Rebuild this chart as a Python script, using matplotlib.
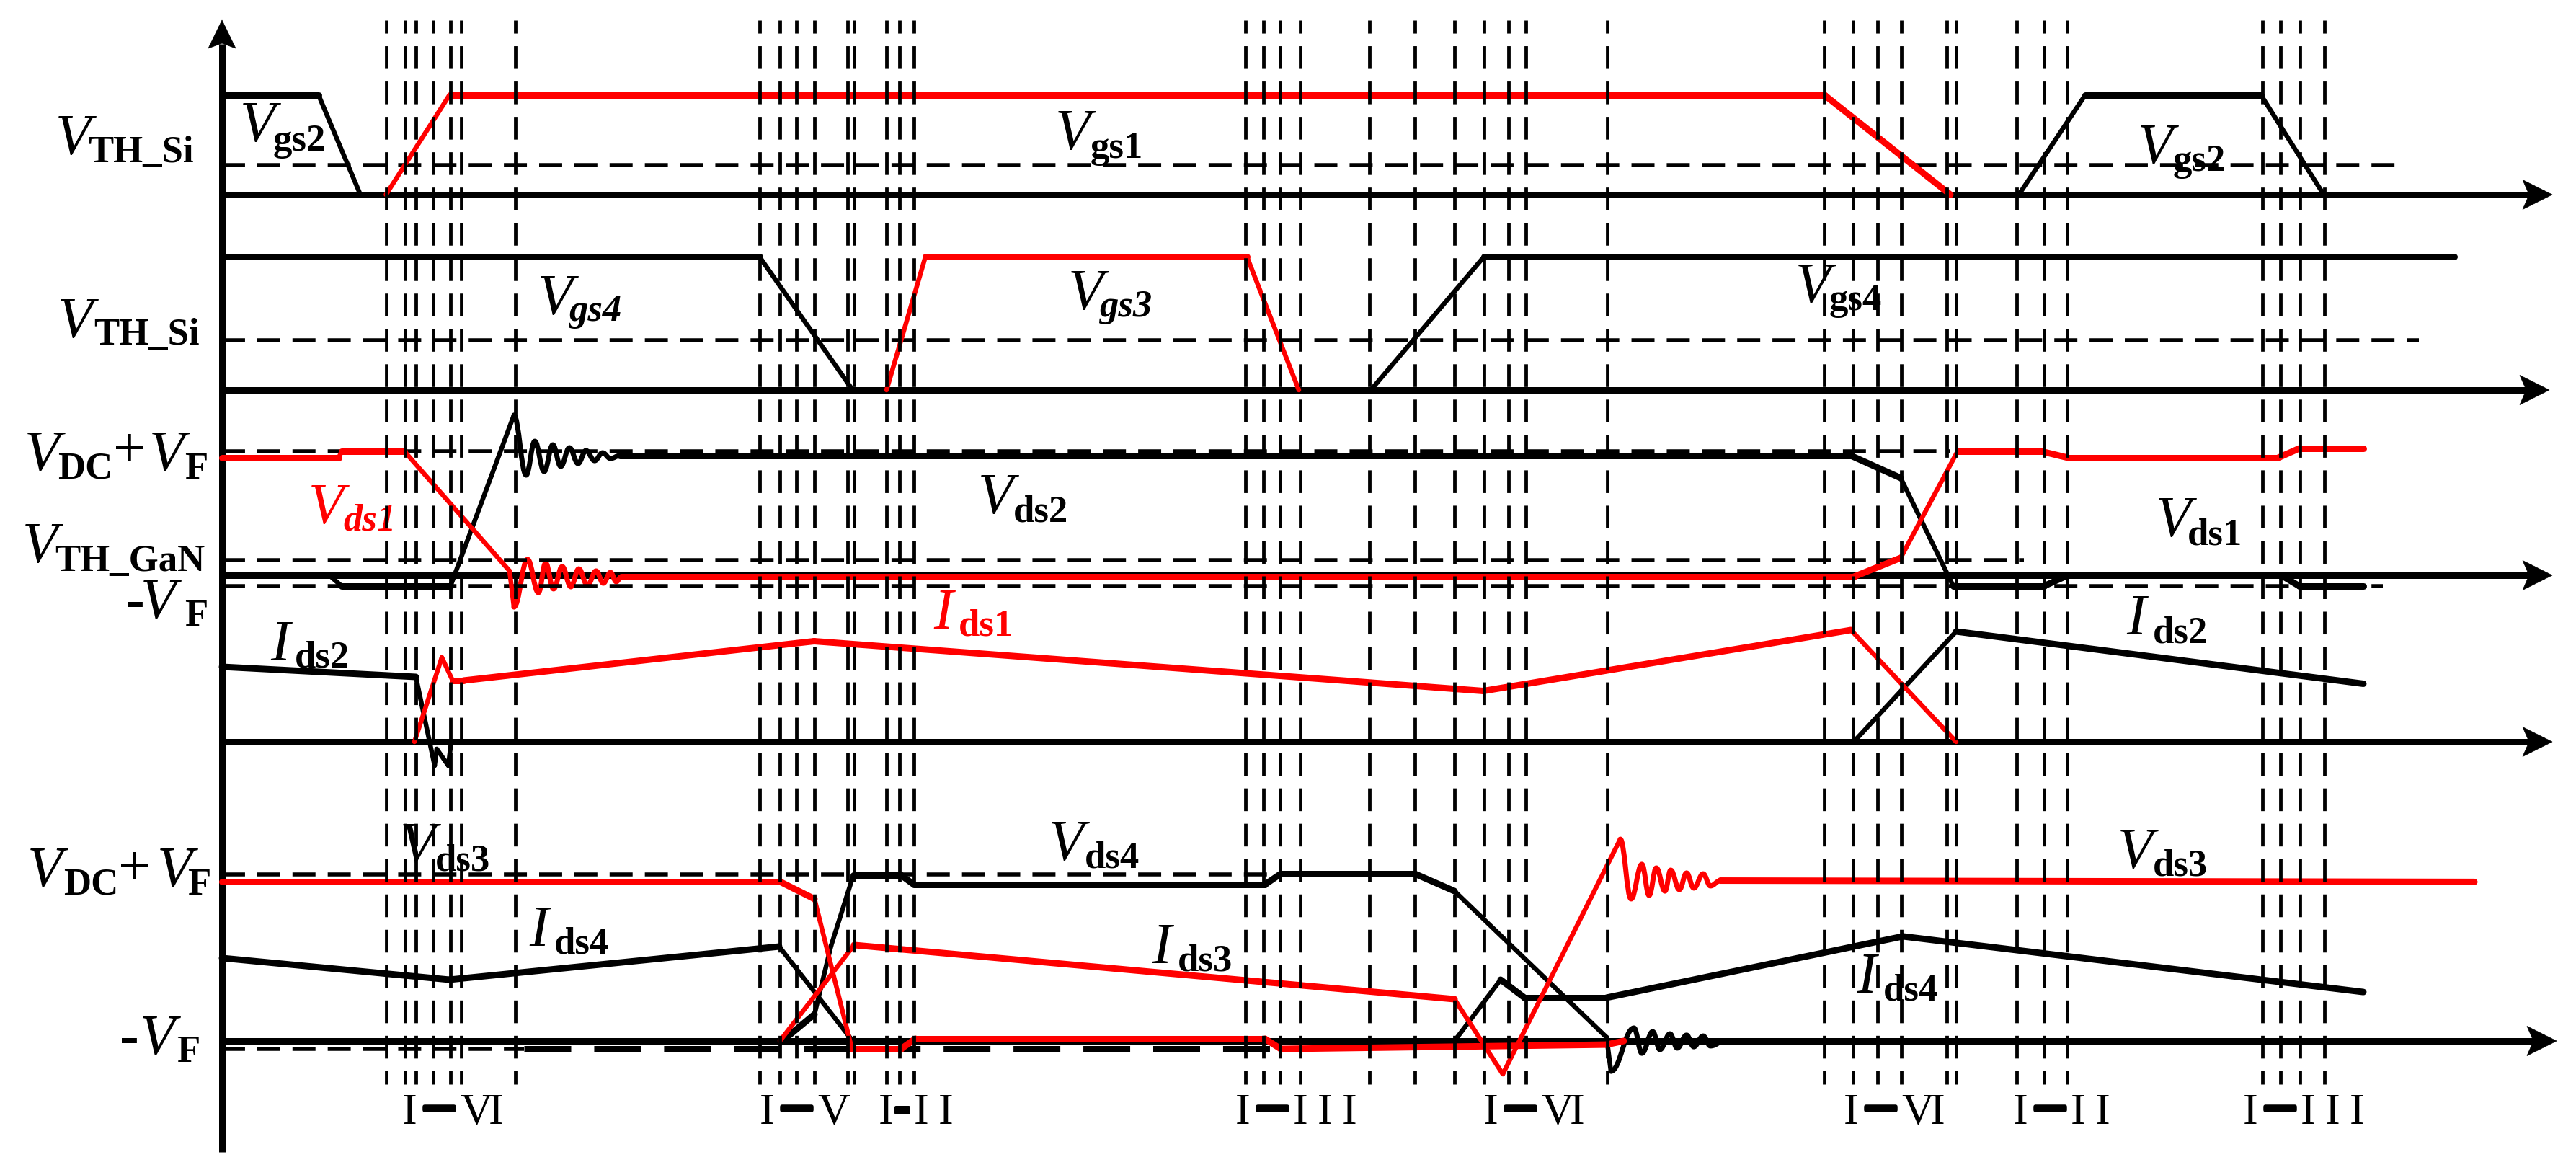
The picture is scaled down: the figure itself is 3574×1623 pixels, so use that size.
import numpy as np
import matplotlib
matplotlib.use('Agg')
import matplotlib.pyplot as plt
import matplotlib.patheffects as pe
from matplotlib.collections import LineCollection
from matplotlib.path import Path
from matplotlib.patches import PathPatch, Polygon

plt.rcParams['lines.scale_dashes'] = False

# ------------------------------------------------------------------
# DATA  (time t in arbitrary units, t = 0 at the vertical axis;
#        levels normalised per row: 1 = gate high / VDC+VF)
# ------------------------------------------------------------------
# Row 1 : Vgs1 / Vgs2
VGS2_A_T = [0, 134, 192]
VGS2_A_V = [1, 1, 0]
VGS2_B_T = [2493, 2585, 2829, 2916]
VGS2_B_V = [0, 1, 1, 0]
VGS1_T = [227.5, 315.5, 2223.5, 2398]
VGS1_V = [0, 1, 1, 0]
ROW1_THR_V = [0.297]
ROW1_THR_T = [(0, 3030)]

# Row 2 : Vgs3 / Vgs4
VGS4_T = [0, 745.6, 875, 1594, 1751, 3097]
VGS4_V = [1, 1, 0, 0, 1, 1]
VGS3_T = [922, 976, 1422, 1494]
VGS3_V = [0, 1, 1, 0]
ROW2_THR_V = [0.373]
ROW2_THR_T = [(0, 3048)]

# Row 3 : Vds1 / Vds2
VDS1_A_T = [0, 162, 166, 253, 399, 405]
VDS1_A_V = [0.948, 0.948, 1.0, 1.0, 0.035, -0.256]
VDS1_RING_T = [405, 424, 439, 449, 460, 472, 484, 495, 507, 519, 529, 539, 547, 554]
VDS1_RING_V = [-0.256, 0.128, -0.140, 0.099, -0.110, 0.070, -0.093, 0.052,
               -0.081, 0.035, -0.064, 0.023, -0.052, -0.012]
VDS1_B_T = [554, 2264, 2329, 2408, 2524, 2561, 2853, 2882, 2971]
VDS1_B_V = [-0.012, -0.012, 0.14, 1.0, 1.0, 0.948, 0.948, 1.023, 1.023]

VDS2_A_T = [0, 149, 166, 317, 405]
VDS2_A_V = [0, 0, -0.087, -0.087, 1.291]
VDS2_RING_T = [405, 422, 434, 447, 459, 470, 482, 494, 505, 517, 528, 539, 552]
VDS2_RING_V = [1.291, 0.808, 1.081, 0.837, 1.052, 0.878, 1.029, 0.901,
               1.006, 0.924, 0.988, 0.942, 0.965]
VDS2_B_T = [552, 2260, 2329, 2402, 2528, 2561, 2857, 2882, 2971]
VDS2_B_V = [0.965, 0.965, 0.785, -0.087, -0.087, 0, 0, -0.087, -0.087]
ROW3_THR_V = [1.0, 0.122, -0.087]          # VDC+VF, VTH_GaN, -VF
ROW3_THR_T = [(0, 2398), (0, 2500), (0, 2998)]

# Row 4 : Ids1 / Ids2
IDS2_A_T = [0, 269, 295, 298, 314, 318]
IDS2_A_V = [1.04, 0.90, -0.33, -0.10, -0.33, 0]
IDS2_B_T = [2264, 2406, 2971]
IDS2_B_V = [0, 1.53, 0.805]
IDS1_T = [267, 305, 320, 335, 821.5, 1750, 2260, 2406]
IDS1_V = [0, 1.17, 0.85, 0.85, 1.395, 0.705, 1.55, 0]

# Row 5 : Vds3 / Vds4 / Ids3 / Ids4
VDS3_A_T = [0, 774, 822, 874, 942, 962, 1447, 1469, 1921, 1945]
VDS3_A_V = [0.957, 0.957, 0.853, -0.048, -0.048, 0.013, 0.013, -0.048, -0.022, 0]
VDS3_RISE_T = [1777, 1940]
VDS3_RISE_V = [-0.199, 1.212]
VDS3_RING_T = [1940, 1955, 1970, 1980, 1990, 2002, 2010, 2022, 2032, 2042, 2055, 2065, 2079]
VDS3_RING_V = [1.212, 0.853, 1.061, 0.874, 1.039, 0.900, 1.026, 0.909, 1.009,
               0.918, 1.004, 0.931, 0.963]
VDS3_B_T = [2079, 3125]
VDS3_B_V = [0.963, 0.955]

VDS4_T = [775, 822, 845, 876, 942, 960, 1447, 1469, 1655, 1710, 1921, 1927]
VDS4_V = [-0.009, 0.160, 0.571, 0.996, 0.996, 0.939, 0.939, 1.004, 1.004, 0.900, 0.022, -0.182]
VDS4_RING_T = [1927, 1959, 1970, 1985, 1995, 2009, 2019, 2032, 2042, 2055, 2065, 2085]
VDS4_RING_V = [-0.182, 0.078, -0.074, 0.056, -0.052, 0.043, -0.043, 0.035,
               -0.035, 0.030, -0.030, 0.0]
IDS4_A_T = [0, 315.5, 773, 875]
IDS4_A_V = [0.498, 0.368, 0.567, 0]
IDS4_B_T = [1710, 1774, 1807, 1921, 2332, 2971]
IDS4_B_V = [0, 0.368, 0.260, 0.260, 0.628, 0.294]
IDS3_T = [774, 877, 1710, 1777]
IDS3_V = [0, 0.576, 0.251, -0.199]
ROW5_THR_V = [1.0, -0.048]
ROW5_THR_T = [(0, 1469), (0, 419)]
ROW5_VF_BOLD_T = (419, 1460)

# interval boundaries (vertical dashed lines)
BOUNDS = [227.5, 254, 269, 292.5, 316.5, 332, 406.5,
          745.6, 774, 797, 821.5, 868, 877,
          921.5, 940, 960,
          1420, 1445, 1468, 1496,
          1592, 1655, 1710, 1751, 1785, 1809, 1922,
          2223, 2262.5, 2297, 2330, 2392.5, 2406,
          2490, 2527.5, 2560,
          2831, 2856, 2882.5, 2916.6]

INTERVAL_LABELS = ['I\u2014VI', 'I\u2014V', 'I-II', 'I\u2014III',
                   'I\u2014VI', 'I\u2014VI', 'I\u2014II', 'I\u2014III']
INTERVAL_X = [558, 1054, 1219, 1714, 2058, 2558, 2793, 3112]

LABELS = [
    ('k', [(77, 214, 'V', 'V'), (122, 225, 'TH_Si', 'b')]),
    ('k', [(333, 196, 'V', 'V'), (379, 209, 'gs2', 'b')]),
    ('k', [(1464, 207, 'V', 'V'), (1513, 219, 'gs1', 'b')]),
    ('k', [(2966, 227, 'V', 'V'), (3015, 237, 'gs2', 'b')]),
    ('k', [(80, 468, 'V', 'V'), (130, 478, 'TH_Si', 'b')]),
    ('k', [(746, 436, 'V', 'V'), (790, 445, 'gs4', 'bi')]),
    ('k', [(1482, 429, 'V', 'V'), (1526, 439, 'gs3', 'bi')]),
    ('k', [(2491, 420, 'V', 'V'), (2538, 430, 'gs4', 'b')]),
    ('k', [(34, 653, 'V', 'V'), (80, 664, 'DC', 'b'), (157, 648, '+', 'p'),
           (207, 653, 'V', 'V'), (256, 664, 'F', 'b')]),
    ('k', [(31, 780, 'V', 'V'), (76, 792, 'TH_GaN', 'b')]),
    ('k', [(174, 858, '-', 'h'), (195, 858, 'V', 'V'), (256, 868, 'F', 'b')]),
    ('r', [(428, 726, 'V', 'V'), (476, 736, 'ds1', 'bi')]),
    ('k', [(1357, 712, 'V', 'V'), (1406, 724, 'ds2', 'b')]),
    ('k', [(2991, 744, 'V', 'V'), (3035, 756, 'ds1', 'b')]),
    ('r', [(1295, 872, 'I', 'V'), (1330, 882, 'ds1', 'b')]),
    ('k', [(375, 916, 'I', 'V'), (409, 926, 'ds2', 'b')]),
    ('k', [(2950, 880, 'I', 'V'), (2987, 892, 'ds2', 'b')]),
    ('k', [(38, 1230, 'V', 'V'), (88, 1241, 'DC', 'b'), (164, 1228, '+', 'p'),
           (218, 1230, 'V', 'V'), (260, 1241, 'F', 'b')]),
    ('k', [(166, 1463, '-', 'h'), (194, 1463, 'V', 'V'), (245, 1473, 'F', 'b')]),
    ('k', [(555, 1196, 'V', 'V'), (604, 1208, 'ds3', 'b')]),
    ('k', [(734, 1312, 'I', 'V'), (769, 1323, 'ds4', 'b')]),
    ('k', [(1455, 1193, 'V', 'V'), (1505, 1204, 'ds4', 'b')]),
    ('k', [(1598, 1336, 'I', 'V'), (1634, 1347, 'ds3', 'b')]),
    ('k', [(2938, 1204, 'V', 'V'), (2987, 1215, 'ds3', 'b')]),
    ('k', [(2576, 1377, 'I', 'V'), (2613, 1388, 'ds4', 'b')]),
]

# ------------------------------------------------------------------
# LAYOUT / STYLE
# ------------------------------------------------------------------
W, H, DPI = 3574, 1624, 100
PT = 72.0 / DPI                      # points per pixel
T0 = 308                             # pixel x of the vertical axis
ROW_BASE = [271, 542, 799, 1030, 1445]
ROW_SCALE = [138, 185, 172, 100, 231]
ARROW_TIP = [3541, 3537, 3541, 3541, 3547]
RED = '#ff0000'
LW_THICK = 9 * PT
LW_THIN = 6.5 * PT
LW_RING = 7 * PT
LW_AXIS = 9 * PT

SERIF = 'Liberation Serif'
ST = {
    'V': dict(family=SERIF, style='italic', weight='normal', size=58),
    'b': dict(family=SERIF, style='normal', weight='bold', size=38),
    'bi': dict(family=SERIF, style='italic', weight='bold', size=38),
    'p': dict(family=SERIF, style='normal', weight='normal', size=58),
    'h': dict(family=SERIF, style='normal', weight='bold', size=58),
    'r': dict(family=SERIF, style='normal', weight='normal', size=44.6),
    'd': dict(family='DejaVu Sans', style='normal', weight='bold', size=33),
    'sd': dict(family='DejaVu Sans', style='normal', weight='bold', size=42),
}

fig = plt.figure(figsize=(W / DPI, H / DPI), dpi=DPI, facecolor='white')

# background axes in pixel space (axes lines, arrows, labels)
bg = fig.add_axes([0, 0, 1, 1], zorder=0)
bg.set_xlim(0, W)
bg.set_ylim(H, 0)
bg.axis('off')

# vertical axis
bg.plot([T0, T0], [1599, 62], color='k', lw=LW_AXIS, solid_capstyle='butt')
bg.add_patch(Polygon([(T0, 29), (T0 - 19, 68), (T0, 61), (T0 + 19, 68)],
                     closed=True, facecolor='k', edgecolor='k', lw=0.5))
# horizontal axes
for yb, tip in zip(ROW_BASE, ARROW_TIP):
    bg.plot([T0, tip - 30], [yb, yb], color='k', lw=LW_AXIS, solid_capstyle='butt')
    bg.add_patch(Polygon([(tip, yb), (tip - 41, yb - 20.5), (tip - 32, yb),
                          (tip - 41, yb + 20.5)], closed=True,
                         facecolor='k', edgecolor='k', lw=0.5))

# labels
for color, pieces in LABELS:
    c = RED if color == 'r' else 'k'
    for x, y, s, st in pieces:
        bg.text(x, y, s, ha='left', va='baseline', color=c, **ST[st])

# interval labels (heavy dash drawn as a stroked dash glyph)
ADV = {'I': 34, 'V': 40}
for lab, x0 in zip(INTERVAL_LABELS, INTERVAL_X):
    yb = 1559
    bg.text(x0, yb, lab[0], ha='left', va='baseline', color='k', **ST['r'])
    sep = lab[1]
    if sep == '-':
        bg.text(x0 + 21, yb - 1, sep, ha='left', va='baseline', color='k',
                path_effects=[pe.withStroke(linewidth=4 * PT, foreground='k')],
                **ST['sd'])
        xn = x0 + 49
    else:
        bg.text(x0 + 29, yb - 8, sep, ha='left', va='baseline', color='k',
                path_effects=[pe.withStroke(linewidth=5.5 * PT, foreground='k')],
                **ST['d'])
        xn = x0 + 80
    for ch in lab[2:]:
        bg.text(xn, yb, ch, ha='left', va='baseline', color='k', **ST['r'])
        xn += ADV[ch]


def row_axes(i):
    ax = fig.add_axes([0, 0, 1, 1], zorder=1 + i)
    ax.set_xlim(-T0, W - T0)
    b, s = ROW_BASE[i], ROW_SCALE[i]
    ax.set_ylim((b - H) / s, b / s)
    ax.axis('off')
    ax.patch.set_alpha(0)
    return ax


def wave(ax, t, v, color):
    pts = np.column_stack([t, v]).astype(float)
    disp = ax.transData.transform(pts)
    segs, lws = [], []
    for i in range(len(pts) - 1):
        dx, dy = disp[i + 1] - disp[i]
        ang = np.degrees(np.arctan2(abs(dy), abs(dx) + 1e-9))
        segs.append(pts[i:i + 2])
        lws.append(LW_THICK if ang < 40 else LW_THIN)
    lc = LineCollection(segs, colors=color, linewidths=lws,
                        capstyle='round', joinstyle='round')
    ax.add_collection(lc)


def ring(ax, t, v, color):
    verts = [(t[0], v[0])]
    codes = [Path.MOVETO]
    for i in range(len(t) - 1):
        dt = t[i + 1] - t[i]
        verts += [(t[i] + 0.4 * dt, v[i]), (t[i + 1] - 0.4 * dt, v[i + 1]),
                  (t[i + 1], v[i + 1])]
        codes += [Path.CURVE4] * 3
    ax.add_patch(PathPatch(Path(verts, codes), fill=False, edgecolor=color,
                           lw=LW_RING, capstyle='round', joinstyle='round'))


THR_STYLE = dict(colors='k', linewidths=5.5 * PT, linestyles=(0, (23, 12.2)))


def thresholds(ax, levels, spans):
    for lv, (t0, t1) in zip(levels, spans):
        ax.hlines(lv, t0, t1, **THR_STYLE)


# Row 1
a1 = row_axes(0)
thresholds(a1, ROW1_THR_V, ROW1_THR_T)
wave(a1, VGS2_A_T, VGS2_A_V, 'k')
wave(a1, VGS2_B_T, VGS2_B_V, 'k')
wave(a1, VGS1_T, VGS1_V, RED)

# Row 2
a2 = row_axes(1)
thresholds(a2, ROW2_THR_V, ROW2_THR_T)
wave(a2, VGS4_T, VGS4_V, 'k')
wave(a2, VGS3_T, VGS3_V, RED)

# Row 3
a3 = row_axes(2)
thresholds(a3, ROW3_THR_V, ROW3_THR_T)
wave(a3, VDS2_A_T, VDS2_A_V, 'k')
ring(a3, VDS2_RING_T, VDS2_RING_V, 'k')
wave(a3, VDS2_B_T, VDS2_B_V, 'k')
wave(a3, VDS1_A_T, VDS1_A_V, RED)
ring(a3, VDS1_RING_T, VDS1_RING_V, RED)
wave(a3, VDS1_B_T, VDS1_B_V, RED)

# Row 4
a4 = row_axes(3)
wave(a4, IDS2_A_T, IDS2_A_V, 'k')
wave(a4, IDS2_B_T, IDS2_B_V, 'k')
wave(a4, IDS1_T, IDS1_V, RED)

# Row 5
a5 = row_axes(4)
thresholds(a5, ROW5_THR_V, ROW5_THR_T)
a5.hlines(ROW5_THR_V[1], ROW5_VF_BOLD_T[0], ROW5_VF_BOLD_T[1], colors='k',
          linewidths=9 * PT, linestyles=(0, (46.8, 23)))
wave(a5, IDS4_A_T, IDS4_A_V, 'k')
wave(a5, IDS4_B_T, IDS4_B_V, 'k')
wave(a5, VDS4_T, VDS4_V, 'k')
ring(a5, VDS4_RING_T, VDS4_RING_V, 'k')
wave(a5, VDS3_A_T, VDS3_A_V, RED)
wave(a5, IDS3_T, IDS3_V, RED)
wave(a5, VDS3_RISE_T, VDS3_RISE_V, RED)
ring(a5, VDS3_RING_T, VDS3_RING_V, RED)
wave(a5, VDS3_B_T, VDS3_B_V, RED)

# top layer: interval boundaries
top = fig.add_axes([0, 0, 1, 1], zorder=20)
top.set_xlim(-T0, W - T0)
top.set_ylim(H, 0)
top.axis('off')
top.patch.set_alpha(0)
top.vlines(BOUNDS, 28.6, 1505, colors='k', linewidths=4.8 * PT,
           linestyles=(9.7, (22.7, 12.6)))

fig.savefig('out.png', dpi=DPI, facecolor='white')
